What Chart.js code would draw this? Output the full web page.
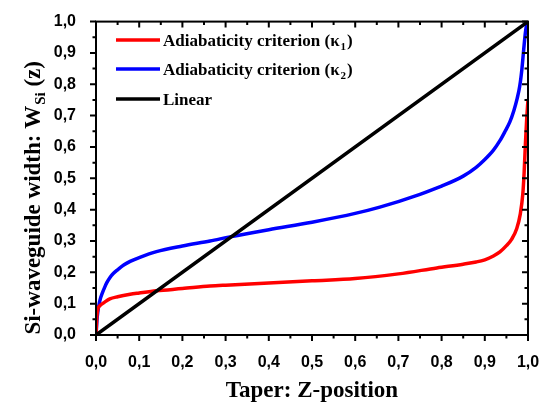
<!DOCTYPE html>
<html>
<head>
<meta charset="utf-8">
<script src="https://cdn.jsdelivr.net/npm/chart.js@4.4.0/dist/chart.umd.min.js"></script>
<style>
  html, body { margin: 0; padding: 0; background: #fff; }
  #wrap { width: 553px; height: 405px; }
</style>
</head>
<body>
<div id="wrap"><canvas id="taperChart"></canvas></div>
<script>
// values
const zKappa1 = [0, 0.002, 0.005, 0.01, 0.015, 0.02, 0.032, 0.05, 0.079, 0.1, 0.14, 0.2, 0.264, 0.3, 0.4, 0.5, 0.6, 0.7, 0.789, 0.85, 0.88, 0.9, 0.92, 0.935, 0.95, 0.962, 0.974, 0.982, 0.988, 0.991, 0.994, 0.997, 1.0];
const wKappa1 = [0, 0.06, 0.085, 0.095, 0.1, 0.105, 0.115, 0.122, 0.13, 0.134, 0.141, 0.148, 0.156, 0.159, 0.166, 0.173, 0.18, 0.195, 0.214, 0.226, 0.233, 0.24, 0.252, 0.265, 0.285, 0.305, 0.34, 0.385, 0.45, 0.517, 0.61, 0.69, 0.75];

const zKappa2 = [0, 0.003, 0.009, 0.015, 0.02, 0.025, 0.032, 0.04, 0.05, 0.065, 0.079, 0.1, 0.14, 0.2, 0.264, 0.31, 0.4, 0.5, 0.6, 0.657, 0.75, 0.8, 0.85, 0.88, 0.9, 0.92, 0.935, 0.947, 0.958, 0.967, 0.975, 0.981, 0.986, 0.99, 0.994, 0.997, 1.0];
const wKappa2 = [0, 0.06, 0.11, 0.135, 0.152, 0.167, 0.183, 0.196, 0.208, 0.224, 0.235, 0.247, 0.266, 0.284, 0.3, 0.313, 0.336, 0.36, 0.388, 0.408, 0.449, 0.475, 0.507, 0.535, 0.56, 0.59, 0.62, 0.65, 0.68, 0.715, 0.755, 0.795, 0.85, 0.91, 0.965, 0.99, 1.0];

const zLinear = [0, 1];
const wLinear = [0, 1];

const seriesNames = ["Adiabaticity criterion (\u03BA", "Adiabaticity criterion (\u03BA", "Linear"];
const seriesSubs = ["1", "2", ""];
const seriesColors = ["#ff0000", "#0000ff", "#000000"];

const xTitle = "Taper: Z-position";
const yTitleMain = "Si-waveguide width: W";
const yTitleSub = "Si";
const yTitleEnd = " (z)";

const toPoints = (xs, ys) => xs.map((x, i) => ({ x: x, y: ys[i] }));
const commaFmt = (v) => Number(v).toFixed(1).replace(".", ",");

const serif = "'Liberation Serif', 'Times New Roman', serif";
const sans = "'Liberation Sans', Arial, sans-serif";

// box, ticks (major + minor, mirrored inward), titles and legend
const framePlugin = {
  id: "frame",
  afterDatasetsDraw(chart) {
    const ctx = chart.ctx;
    const a = chart.chartArea;
    const xs = chart.scales.x;
    const ys = chart.scales.y;
    ctx.save();
    ctx.strokeStyle = "#000";
    ctx.lineWidth = 2;
    ctx.strokeRect(a.left, a.top, a.right - a.left, a.bottom - a.top);

    for (let i = 0; i <= 20; i++) {
      const v = i / 20;
      const major = i % 2 === 0;
      const len = major ? 6 : 3.5;
      const px = xs.getPixelForValue(v);
      const py = ys.getPixelForValue(v);
      ctx.beginPath();
      ctx.moveTo(px, a.bottom);
      ctx.lineTo(px, a.bottom + len);
      ctx.moveTo(px, a.top);
      ctx.lineTo(px, a.top + len);
      ctx.moveTo(a.left, py);
      ctx.lineTo(a.left - len, py);
      ctx.moveTo(a.right, py);
      ctx.lineTo(a.right - len, py);
      ctx.stroke();
    }

    // x title
    ctx.fillStyle = "#000";
    ctx.font = "bold 23px " + serif;
    ctx.textAlign = "center";
    ctx.textBaseline = "alphabetic";
    ctx.fillText(xTitle, (a.left + a.right) / 2, 397);

    // y title (rotated, with subscript)
    ctx.save();
    ctx.translate(40, (a.top + a.bottom) / 2 + 20);
    ctx.rotate(-Math.PI / 2);
    ctx.font = "bold 23px " + serif;
    const w1 = ctx.measureText(yTitleMain).width;
    ctx.font = "bold 15px " + serif;
    const w2 = ctx.measureText(yTitleSub).width;
    ctx.font = "bold 23px " + serif;
    const w3 = ctx.measureText(yTitleEnd).width;
    let x0 = -(w1 + w2 + w3) / 2;
    ctx.textAlign = "left";
    ctx.fillText(yTitleMain, x0, 0);
    ctx.font = "bold 15px " + serif;
    ctx.fillText(yTitleSub, x0 + w1 + 1, 5);
    ctx.font = "bold 23px " + serif;
    ctx.fillText(yTitleEnd, x0 + w1 + w2 + 1, 0);
    ctx.restore();

    // legend
    const rows = [40, 69, 99];
    rows.forEach((ry, i) => {
      ctx.strokeStyle = seriesColors[i];
      ctx.lineWidth = 3.5;
      ctx.beginPath();
      ctx.moveTo(116, ry);
      ctx.lineTo(160, ry);
      ctx.stroke();
      ctx.fillStyle = "#000";
      ctx.textAlign = "left";
      ctx.font = "bold 17px " + serif;
      ctx.fillText(seriesNames[i], 163, ry + 6);
      if (seriesSubs[i]) {
        const wn = ctx.measureText(seriesNames[i]).width;
        ctx.font = "bold 11px " + serif;
        ctx.fillText(seriesSubs[i], 163 + wn + 1, ry + 10);
        const ws = ctx.measureText(seriesSubs[i]).width;
        ctx.font = "bold 17px " + serif;
        ctx.fillText(")", 163 + wn + ws + 2, ry + 6);
      }
    });
    ctx.restore();
  }
};

new Chart(document.getElementById("taperChart"), {
  type: "line",
  data: {
    datasets: [
      { label: "k1", data: toPoints(zKappa1, wKappa1), borderColor: seriesColors[0], order: 2 },
      { label: "k2", data: toPoints(zKappa2, wKappa2), borderColor: seriesColors[1], order: 3 },
      { label: "Linear", data: toPoints(zLinear, wLinear), borderColor: seriesColors[2], order: 1 }
    ]
  },
  options: {
    responsive: true,
    maintainAspectRatio: false,
    animation: false,
    elements: {
      point: { radius: 0 },
      line: { borderWidth: 3.5, cubicInterpolationMode: "monotone", borderCapStyle: "round" }
    },
    layout: { padding: { top: 16, right: 25, left: 0, bottom: 0 } },
    plugins: { legend: { display: false }, tooltip: { enabled: false } },
    scales: {
      x: {
        type: "linear",
        min: 0,
        max: 1,
        grid: { display: false },
        border: { display: false },
        ticks: { stepSize: 0.1, callback: commaFmt, color: "#000", padding: 10, maxRotation: 0,
                 font: { family: sans, size: 16, weight: "bold" } },
        afterFit: (s) => { s.height = 70; }
      },
      y: {
        type: "linear",
        min: 0,
        max: 1,
        grid: { display: false },
        border: { display: false },
        ticks: { stepSize: 0.1, callback: commaFmt, color: "#000", padding: 12,
                 font: { family: sans, size: 16, weight: "bold" } },
        afterFit: (s) => { s.width = 96; }
      }
    }
  },
  plugins: [framePlugin]
});
</script>
</body>
</html>
